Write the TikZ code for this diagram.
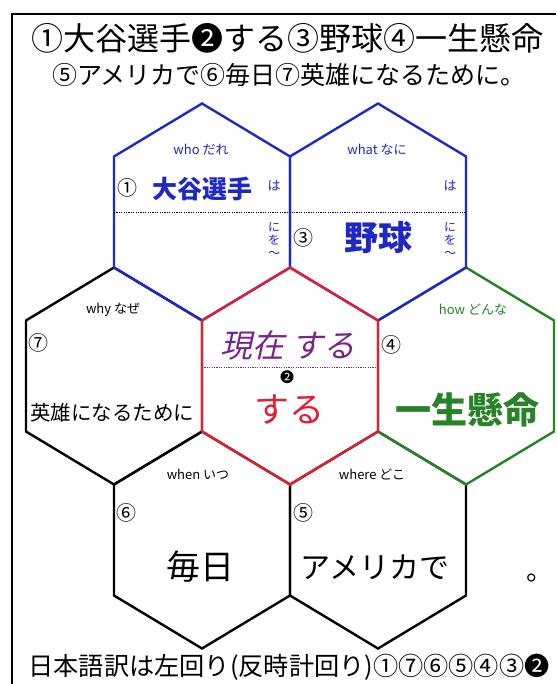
\documentclass[tikz,border=0pt]{standalone}
\usepackage{fontspec}
\setmainfont{Noto Sans CJK JP}
\newfontfamily\jpslant[FakeSlant=0.22]{Noto Sans CJK JP}
\definecolor{hblue}{RGB}{30,40,200}
\definecolor{hgreen}{RGB}{40,130,40}
\definecolor{hred}{RGB}{225,30,50}
\definecolor{hpurple}{RGB}{120,35,140}
\tikzset{
  hexline/.style={line width=2.4pt, line join=miter},
  txt/.style={inner sep=0pt, anchor=center},
  sm/.style={txt, font=\fontsize{13}{13}\selectfont},
  num/.style={txt, font=\fontsize{20}{20}\selectfont},
  dotline/.style={line width=0.6pt, dash pattern=on 1.2pt off 1.2pt},
}
\newcommand\hexat[2]{\draw[hexline,#2,shift={(#1)}] (0,-108.5) -- (88,-55.5) -- (88,55.5) -- (0,108.5) -- (-88,55.5) -- (-88,-55.5) -- cycle;}
\begin{document}
\begin{tikzpicture}[x=1pt,y=-1pt]
\useasboundingbox (0,0) rectangle (556,684);
\fill[white] (0,0) rectangle (556,684);
% frame
\coordinate (fbl) at (12,684);
\coordinate (ftl) at (12,14);
\coordinate (ftr) at (556,14);
\draw[line width=1.6pt] (fbl) -- (ftl) -- (ftr);
% hex centres
\coordinate (C) at (290,376);
\coordinate (WHO) at (202,212);
\coordinate (WHAT) at (378,212);
\coordinate (WHY) at (114,376);
\coordinate (HOW) at (466,376);
\coordinate (WHEN) at (202,540);
\coordinate (WHERE) at (378,540);
\hexat{WHY}{black}
\hexat{WHEN}{black}
\hexat{WHERE}{black}
\hexat{HOW}{hgreen}
\hexat{WHO}{hblue}
\hexat{WHAT}{hblue}
\hexat{C}{hred}
% dotted lines
\coordinate (d1a) at (114,212);
\coordinate (d1b) at (466,212);
\draw[dotline] (d1a) -- (d1b);
\coordinate (d2a) at (202,367);
\coordinate (d2b) at (378,367);
\draw[dotline,hpurple] (d2a) -- (d2b);
% title
\node[txt,font=\fontsize{32}{32}\selectfont] (t1) at (287,38) {①大谷選手❷する③野球④一生懸命};
\node[txt,font=\fontsize{25}{25}\selectfont] (t2) at (289,75) {⑤アメリカで⑥毎日⑦英雄になるために。};
\node[txt,font=\fontsize{25.2}{25.2}\selectfont] (t3) at (289,667) {日本語訳は左回り(反時計回り)①⑦⑥⑤④③❷};
% who
\node[sm,hblue] (whoL) at (201,150) {who だれ};
\node[num] (n1) at (127,188) {①};
\node[txt,hblue,font=\fontsize{25}{25}\selectfont\bfseries] (whoT) at (202,189) {大谷選手};
\node[sm,hblue] (whoHa) at (274,186) {は};
\node[sm,hblue,align=center,font=\fontsize{12}{13}\selectfont] (whoNi) at (274,240) {に\\を\\～};
% what
\node[sm,hblue] (whatL) at (377,150) {what なに};
\node[sm,hblue] (whatHa) at (450,186) {は};
\node[num] (n3) at (303,238) {③};
\node[txt,hblue,font=\fontsize{34}{34}\selectfont\bfseries] (whatT) at (378,238) {野球};
\node[sm,hblue,align=center,font=\fontsize{12}{13}\selectfont] (whatNi) at (450,240) {に\\を\\～};
% why
\node[sm] (whyL) at (113,310) {why なぜ};
\node[num] (n7) at (38,343) {⑦};
\node[txt,font=\fontsize{20.5}{20.5}\selectfont] (whyT) at (112,413) {英雄になるために};
% centre
\node[txt,hpurple,font=\fontsize{32}{32}\selectfont\jpslant] (cT1) at (288,345) {現在 する};
\node[txt,font=\fontsize{14}{14}\selectfont] (n2) at (287,377) {❷};
\node[txt,hred,font=\fontsize{35}{35}\selectfont] (cT2) at (289,410) {する};
% how
\node[sm,hgreen] (howL) at (473,310) {how どんな};
\node[num] (n4) at (391,345) {④};
\node[txt,hgreen,font=\fontsize{36}{36}\selectfont\bfseries] (howT) at (467,410) {一生懸命};
% when
\node[sm] (whenL) at (198,474) {when いつ};
\node[num] (n6) at (126,513) {⑥};
\node[txt,font=\fontsize{34}{34}\selectfont] (whenT) at (200,567) {毎日};
% where
\node[sm] (whereL) at (372,474) {where どこ};
\node[num] (n5) at (303,513) {⑤};
\node[txt,font=\fontsize{30}{30}\selectfont] (whereT) at (375,567) {アメリカで};
\node[txt,font=\fontsize{27}{27}\selectfont] (maru) at (540,578) {。};
\end{tikzpicture}
\end{document}
